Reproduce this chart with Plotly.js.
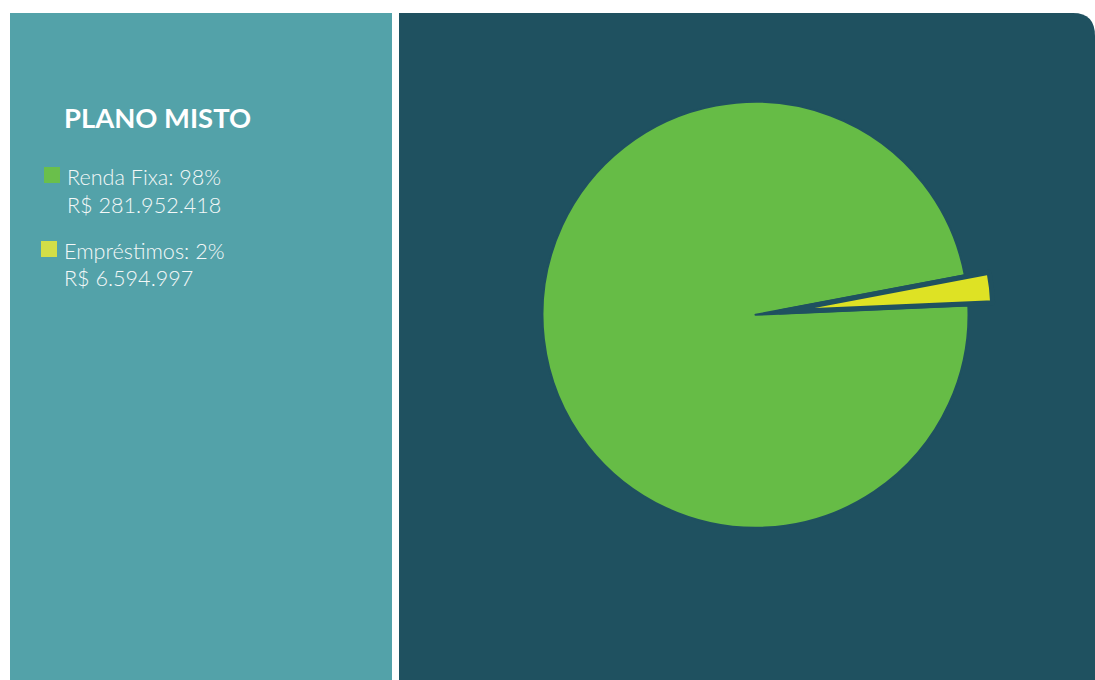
<!DOCTYPE html>
<html>
<head>
<meta charset="utf-8">
<script src="https://cdn.plot.ly/plotly-3.0.1.min.js"></script>
<style>
  html, body { margin: 0; padding: 0; background: #ffffff; }
  #chart { width: 1095px; height: 680px; }
</style>
</head>
<body>
<div id="chart"></div>
<script>
// ---- data ----
const title = 'PLANO MISTO';
const labels = ['Renda Fixa', 'Empréstimos'];
const values = [281952418, 6594997];
const percentLabels = ['98%', '2%'];
const valueLabels = ['R$ 281.952.418', 'R$ 6.594.997'];
const sliceColors = ['#66bc46', '#dee224'];
const keyColors = ['#6abf4b', '#d3de47'];
const pulls = [0, 0.115];

// ---- layout helpers (pixel -> paper) ----
const W = 1095, H = 680;
const px = x => x / W;
const py = y => 1 - y / H;

const font = 'Lato, "Open Sans", sans-serif';
const textColor = '#f4f8f8';
const panelDark = '#1f5160';

const shapes = [
  // left panel
  {type: 'rect', xref: 'paper', yref: 'paper', x0: px(10), x1: px(392), y0: py(680), y1: py(13),
   fillcolor: '#53a2a9', line: {width: 0}, layer: 'below'},
  // right panel with rounded top-right corner
  {type: 'path', xref: 'paper', yref: 'paper', layer: 'below', fillcolor: panelDark, line: {width: 0},
   path: `M${px(399)},${py(680)} L${px(399)},${py(13)} L${px(1073)},${py(13)} Q${px(1095)},${py(13)} ${px(1095)},${py(36)} L${px(1095)},${py(680)} Z`}
];

// legend key squares
const keyPos = [[44, 167], [41, 241]];
const annotations = [{
  xref: 'paper', yref: 'paper', x: px(62), y: py(117.5), xanchor: 'left', yanchor: 'middle',
  text: title, showarrow: false, font: {family: font, size: 27.4, color: '#ffffff', weight: 700}
}];
const lineBase = [[67, 185, 213], [64, 259, 286]];
labels.forEach((lab, i) => {
  const [kx, ky] = keyPos[i];
  shapes.push({type: 'rect', xref: 'paper', yref: 'paper', x0: px(kx), x1: px(kx + 16), y0: py(ky + 16), y1: py(ky),
    fillcolor: keyColors[i], line: {width: 0}});
  const [tx, b1, b2] = lineBase[i];
  annotations.push({xref: 'paper', yref: 'paper', x: px(tx - 2), y: py(b1 - 8), xanchor: 'left', yanchor: 'middle',
    text: lab + ': ' + percentLabels[i], showarrow: false, font: {family: font, size: 21.6, color: textColor, weight: 300}});
  annotations.push({xref: 'paper', yref: 'paper', x: px(tx - 2), y: py(b2 - 8), xanchor: 'left', yanchor: 'middle',
    text: valueLabels[i], showarrow: false, font: {family: font, size: 21.6, color: textColor, weight: 300}});
});

// pie: centre (755.5, 314.8)
const cx = 755.5, cy = 314.8, r = 213;
const half = r * (1 + Math.max(...pulls));

const trace = {
  type: 'pie',
  labels: labels,
  values: values,
  sort: false,
  direction: 'counterclockwise',
  rotation: 87.5,
  pull: pulls,
  marker: {colors: sliceColors, line: {width: [2, 5], color: [panelDark, panelDark]}},
  textinfo: 'none',
  hoverinfo: 'none',
  showlegend: false,
  domain: {x: [px(cx - half), px(cx + half)], y: [py(cy + half), py(cy - half)]}
};

const layout = {
  width: W, height: H,
  margin: {l: 0, r: 0, t: 0, b: 0},
  paper_bgcolor: '#ffffff',
  plot_bgcolor: 'rgba(0,0,0,0)',
  showlegend: false,
  shapes: shapes,
  annotations: annotations
};

Plotly.newPlot('chart', [trace], layout, {displayModeBar: false, staticPlot: true});
</script>
</body>
</html>
